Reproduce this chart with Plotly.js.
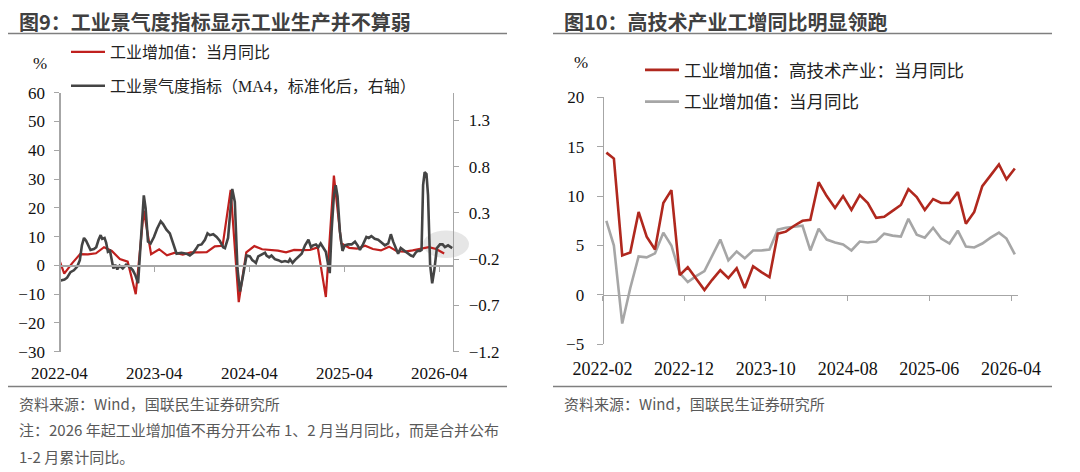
<!DOCTYPE html>
<html><head><meta charset="utf-8">
<script src="https://cdn.plot.ly/plotly-3.0.1.min.js"></script>
<style>html,body{margin:0;padding:0;background:#fff}#chart{width:1080px;height:472px}</style>
</head><body><div id="chart"></div>
<script>
// ---------- Figure 9 data ----------
const ipDates = ['2022-03-20','2022-04-20','2022-05-20','2022-06-20','2022-07-20','2022-08-20','2022-09-20','2022-10-20','2022-11-20','2022-12-20',
'2023-01-20','2023-02-20','2023-03-20','2023-04-20','2023-05-20','2023-06-20','2023-07-20','2023-08-20','2023-09-20','2023-10-20','2023-11-20','2023-12-20',
'2024-01-20','2024-02-20','2024-03-20','2024-04-20','2024-05-20','2024-06-20','2024-07-20','2024-08-20','2024-09-20','2024-10-20','2024-11-20','2024-12-20',
'2025-01-20','2025-02-20','2025-03-20','2025-04-20','2025-05-20','2025-06-20','2025-07-20','2025-08-20','2025-09-20','2025-10-20','2025-11-20','2025-12-20',
'2026-01-20','2026-02-20','2026-03-20','2026-04-20'];
const ipYoY = [5.0,-2.9,0.7,3.9,3.8,4.2,6.3,5.0,2.2,1.3,
-10.0,19.0,3.9,5.6,3.5,4.4,3.7,4.5,4.5,4.6,6.6,6.8,
26.2,-12.8,4.5,6.7,5.6,5.3,5.1,4.5,5.4,5.3,5.4,6.2,
-11.0,31.2,7.7,6.1,5.8,6.8,5.7,5.2,6.5,4.9,4.8,5.2,
5.8,6.3,5.7,4.1];

const prosDates = ['2022-04-02','2022-04-06','2022-04-21','2022-05-01','2022-05-14','2022-05-27','2022-06-09','2022-06-19','2022-06-27','2022-07-05',
'2022-07-13','2022-07-20','2022-07-30','2022-08-12','2022-08-21','2022-08-30','2022-09-07','2022-09-13','2022-09-22','2022-09-28',
'2022-10-05','2022-10-13','2022-10-18','2022-10-26','2022-11-02','2022-11-10','2022-11-19','2022-12-01','2022-12-14','2022-12-27',
'2023-01-09','2023-01-18','2023-01-29','2023-02-06','2023-02-14','2023-02-20','2023-02-27','2023-03-08','2023-03-18','2023-03-31',
'2023-04-12','2023-04-26','2023-05-05','2023-05-18','2023-05-31','2023-06-13','2023-06-26','2023-07-15','2023-08-03','2023-08-16',
'2023-08-29','2023-09-11','2023-09-17','2023-09-30','2023-10-13','2023-10-23','2023-11-01','2023-11-14','2023-11-27','2023-12-09',
'2023-12-22','2023-12-29','2024-01-10','2024-01-26','2024-02-05','2024-02-15','2024-02-25','2024-03-08','2024-03-21','2024-04-03',
'2024-04-12','2024-04-22','2024-04-26','2024-05-05','2024-05-18','2024-05-31','2024-06-06','2024-06-16','2024-06-25','2024-07-08',
'2024-07-21','2024-08-03','2024-08-16','2024-08-29','2024-09-04','2024-09-14','2024-09-23','2024-10-06','2024-10-19','2024-11-01',
'2024-11-14','2024-11-24','2024-12-02','2024-12-13','2024-12-22','2024-12-31','2025-01-10','2025-01-20','2025-01-29','2025-02-04',
'2025-02-11','2025-02-20','2025-02-27','2025-03-06','2025-03-15','2025-03-25','2025-04-03','2025-04-16','2025-04-29','2025-05-12',
'2025-05-22','2025-05-31','2025-06-12','2025-06-25','2025-07-04','2025-07-14','2025-07-27','2025-08-09','2025-08-22','2025-09-04',
'2025-09-17','2025-09-27','2025-10-06','2025-10-15','2025-10-25','2025-11-04','2025-11-17','2025-11-30','2025-12-13','2025-12-22',
'2025-12-31','2026-01-08','2026-01-17','2026-01-23','2026-01-29','2026-02-04','2026-02-11','2026-02-17','2026-02-25','2026-03-05',
'2026-03-13','2026-03-23','2026-04-04','2026-04-14','2026-04-23','2026-05-05','2026-05-21'];
const prosIndex = [-0.42,-0.43,-0.42,-0.40,-0.34,-0.32,-0.28,-0.21,-0.05,0.03,
0.00,-0.05,-0.10,-0.09,-0.07,0.01,0.06,0.02,0.03,-0.02,
-0.12,-0.11,-0.18,-0.30,-0.26,-0.31,-0.27,-0.30,-0.26,-0.28,
-0.32,-0.37,-0.46,-0.08,0.28,0.49,0.35,-0.01,-0.03,0.04,
0.13,0.21,0.18,0.12,0.08,-0.03,-0.14,-0.13,-0.14,-0.16,
-0.13,-0.08,-0.05,-0.04,0.01,0.08,0.06,0.07,0.04,0.00,
-0.07,-0.08,0.03,0.56,0.42,-0.30,-0.55,-0.37,-0.16,-0.17,
-0.21,-0.23,-0.24,-0.17,-0.15,-0.13,-0.16,-0.18,-0.16,-0.20,
-0.21,-0.23,-0.22,-0.23,-0.20,-0.24,-0.21,-0.17,-0.14,-0.05,
0.01,-0.07,-0.05,-0.04,-0.07,-0.03,-0.08,-0.12,-0.26,-0.35,
0.10,0.49,0.60,0.48,0.10,-0.11,-0.05,-0.04,-0.04,-0.01,
-0.05,-0.10,-0.04,0.04,0.03,0.05,0.02,0.01,-0.02,-0.05,
-0.03,0.07,-0.01,-0.08,-0.14,-0.08,-0.11,-0.13,-0.16,-0.17,
-0.13,-0.11,-0.11,-0.10,0.60,0.74,0.72,0.49,-0.26,-0.46,
-0.32,-0.08,-0.04,-0.04,-0.07,-0.05,-0.08];

const f9TickVals = ['2022-04-01','2023-04-01','2024-04-01','2025-04-01','2026-04-01'];
const f9TickText = ['2022-04','2023-04','2024-04','2025-04','2026-04'];
const f9LeftTicks = [60,50,40,30,20,10,0,-10,-20,-30];
const f9RightTicks = [1.3,0.8,0.3,-0.2,-0.7,-1.2];

// ---------- Figure 10 data ----------
const f10Months = ['2022-02-15','2022-03-15','2022-04-15','2022-05-15','2022-06-15','2022-07-15','2022-08-15','2022-09-15','2022-10-15','2022-11-15','2022-12-15',
'2023-01-15','2023-02-15','2023-03-15','2023-04-15','2023-05-15','2023-06-15','2023-07-15','2023-08-15','2023-09-15','2023-10-15','2023-11-15','2023-12-15',
'2024-01-15','2024-02-15','2024-03-15','2024-04-15','2024-05-15','2024-06-15','2024-07-15','2024-08-15','2024-09-15','2024-10-15','2024-11-15','2024-12-15',
'2025-01-15','2025-02-15','2025-03-15','2025-04-15','2025-05-15','2025-06-15','2025-07-15','2025-08-15','2025-09-15','2025-10-15','2025-11-15','2025-12-15',
'2026-01-15','2026-02-15','2026-03-15','2026-04-15'];
const hiTechYoY = [14.4,13.8,4.0,4.3,8.4,5.9,4.6,9.3,10.6,2.0,2.8,
1.6,0.5,1.5,2.5,1.7,2.7,0.7,2.9,2.3,1.8,6.2,6.4,
7.0,7.5,7.6,11.4,10.0,8.8,10.0,8.6,10.1,9.3,7.8,7.9,
8.5,9.1,10.7,9.9,8.6,9.7,9.3,9.3,10.4,7.2,8.4,11.0,
12.1,13.2,11.7,12.8];
const ipYoY2 = [7.5,5.0,-2.9,0.7,3.9,3.8,4.2,6.3,5.0,2.2,1.3,
1.9,2.4,3.9,5.6,3.5,4.4,3.7,4.5,4.5,4.6,6.6,6.8,
6.9,7.0,4.5,6.7,5.6,5.3,5.1,4.5,5.4,5.3,5.4,6.2,
6.0,5.9,7.7,6.1,5.8,6.8,5.7,5.2,6.5,4.9,4.8,5.2,
5.8,6.3,5.7,4.1];
const f10TickVals = ['2022-02-01','2022-12-01','2023-10-01','2024-08-01','2025-06-01','2026-04-01'];
const f10TickText = ['2022-02','2022-12','2023-10','2024-08','2025-06','2026-04'];
const f10YTicks = [20,15,10,5,0,-5];

// ---------- layout helpers ----------
const W = 1080, H = 472;
const px = x => x / W;
const py = y => 1 - y / H;
const AX = '#a6a6a6';
const TICKFONT = {family: 'Liberation Serif, Times New Roman, serif', size: 17, color: '#111'};
const LEGFONT = {family: 'Liberation Serif, Noto Sans CJK SC, sans-serif', size: 16, color: '#222'};
const NOTEFONT = {family: 'Noto Sans CJK SC, sans-serif', size: 15, color: '#595959'};

const L = {x0: 59.3, x1: 453, yTop: 92.7, yBot: 351.7};
const R = {x0: 602.6, x1: 1018.3, yTop: 97.3, yBot: 344.3};

const traces = [
  {x: ipDates, y: ipYoY, type: 'scatter', mode: 'lines', name: '工业增加值：当月同比',
   line: {color: '#C0201E', width: 2.2}, xaxis: 'x', yaxis: 'y', legend: 'legend', legendrank: 1, legendgroup: 'a'},
  {x: prosDates, y: prosIndex, type: 'scatter', mode: 'lines', name: '工业景气度指标（MA4，标准化后，右轴）',
   line: {color: '#444444', width: 2.6}, xaxis: 'x', yaxis: 'y2', legend: 'legend', legendrank: 2, legendgroup: 'b'},
  {x: f10Months, y: ipYoY2, type: 'scatter', mode: 'lines', name: '工业增加值：当月同比',
   line: {color: '#A6A6A6', width: 2.6}, xaxis: 'x2', yaxis: 'y3', legend: 'legend2', legendrank: 2, legendgroup: 'd'},
  {x: f10Months, y: hiTechYoY, type: 'scatter', mode: 'lines', name: '工业增加值：高技术产业：当月同比',
   line: {color: '#B0281E', width: 2.6}, xaxis: 'x2', yaxis: 'y3', legend: 'legend2', legendrank: 1, legendgroup: 'c'}
];

const layout = {
  width: W, height: H, margin: {l: 0, r: 0, t: 0, b: 0},
  paper_bgcolor: '#fff', plot_bgcolor: 'rgba(0,0,0,0)',
  showlegend: true,
  xaxis: {type: 'date', domain: [px(L.x0), px(L.x1)], range: ['2022-04-01', '2026-05-24'],
    anchor: 'free', position: py(L.yBot) + (py(L.yTop) - py(L.yBot)) / 3,
    tickmode: 'array', tickvals: f9TickVals, ticktext: f9TickText,
    showline: true, linecolor: AX, linewidth: 1.3, ticks: 'outside', ticklen: 5, tickcolor: AX,
    showgrid: false, zeroline: false, tickfont: TICKFONT, ticklabelstandoff: 87, fixedrange: true},
  yaxis: {domain: [py(L.yBot), py(L.yTop)], range: [-30, 60], anchor: 'free', position: px(L.x0),
    tickmode: 'array', tickvals: f9LeftTicks, showline: true, linecolor: AX, linewidth: 1.3,
    ticks: 'outside', ticklen: 5, tickcolor: AX, showgrid: false, zeroline: false,
    tickfont: TICKFONT, ticklabelstandoff: 6, fixedrange: true},
  yaxis2: {overlaying: 'y', side: 'right', range: [-1.2, 1.6], anchor: 'free', position: px(L.x1),
    tickmode: 'array', tickvals: f9RightTicks, showline: true, linecolor: AX, linewidth: 1.3,
    ticks: 'outside', ticklen: 5, tickcolor: AX, showgrid: false, zeroline: false,
    tickfont: TICKFONT, ticklabelstandoff: 6, fixedrange: true},
  xaxis2: {type: 'date', domain: [px(R.x0), px(R.x1)], range: ['2022-02-01', '2026-04-28'],
    anchor: 'free', position: py(R.yBot) + (py(R.yTop) - py(R.yBot)) / 5,
    tickmode: 'array', tickvals: f10TickVals, ticktext: f10TickText,
    showline: true, linecolor: AX, linewidth: 1.3, ticks: 'outside', ticklen: 5, tickcolor: AX,
    showgrid: false, zeroline: false, tickfont: Object.assign({}, TICKFONT, {size: 18}), ticklabelstandoff: 52, fixedrange: true},
  yaxis3: {domain: [py(R.yBot), py(R.yTop)], range: [-5, 20], anchor: 'free', position: px(R.x0),
    tickmode: 'array', tickvals: f10YTicks, showline: true, linecolor: AX, linewidth: 1.3,
    ticks: 'outside', ticklen: 6, tickcolor: AX, showgrid: false, zeroline: false,
    tickfont: TICKFONT, ticklabelstandoff: 9, fixedrange: true},
  legend: {x: px(66), y: py(35), xanchor: 'left', yanchor: 'top', bgcolor: 'rgba(0,0,0,0)',
    font: LEGFONT, traceorder: 'grouped', tracegroupgap: 10, itemwidth: 34, itemclick: false},
  legend2: {x: px(640), y: py(52), xanchor: 'left', yanchor: 'top', bgcolor: 'rgba(0,0,0,0)',
    font: Object.assign({}, LEGFONT, {size: 17.5}), traceorder: 'grouped', tracegroupgap: 6, itemwidth: 34, itemclick: false},
  shapes: [
    {type: 'line', xref: 'paper', yref: 'paper', x0: px(8), x1: px(507), y0: py(33.5), y1: py(33.5), line: {color: '#7f7f7f', width: 1.6}},
    {type: 'line', xref: 'paper', yref: 'paper', x0: px(553), x1: px(1052), y0: py(33.5), y1: py(33.5), line: {color: '#7f7f7f', width: 1.6}},
    {type: 'line', xref: 'paper', yref: 'paper', x0: px(8), x1: px(507), y0: py(386.5), y1: py(386.5), line: {color: '#7f7f7f', width: 1.6}},
    {type: 'line', xref: 'paper', yref: 'paper', x0: px(553), x1: px(1052), y0: py(386.5), y1: py(386.5), line: {color: '#7f7f7f', width: 1.6}},
    {type: 'circle', xref: 'paper', yref: 'paper', layer: 'below', x0: px(423), x1: px(469), y0: py(258), y1: py(230.5),
     fillcolor: 'rgba(200,200,200,0.45)', line: {width: 0}}
  ],
  annotations: [
    {text: '<b>图9：工业景气度指标显示工业生产并不算弱</b>', xref: 'paper', yref: 'paper', x: px(17), y: py(22), xanchor: 'left', yanchor: 'middle', showarrow: false,
     font: {family: 'Noto Sans CJK SC, sans-serif', size: 20, color: '#404040'}},
    {text: '<b>图10：高技术产业工增同比明显领跑</b>', xref: 'paper', yref: 'paper', x: px(562), y: py(22), xanchor: 'left', yanchor: 'middle', showarrow: false,
     font: {family: 'Noto Sans CJK SC, sans-serif', size: 20, color: '#404040'}},
    {text: '%', xref: 'paper', yref: 'paper', x: px(40), y: py(64), xanchor: 'center', yanchor: 'middle', showarrow: false, font: TICKFONT},
    {text: '%', xref: 'paper', yref: 'paper', x: px(581), y: py(63), xanchor: 'center', yanchor: 'middle', showarrow: false, font: TICKFONT},
    {text: '资料来源：Wind，国联民生证券研究所', xref: 'paper', yref: 'paper', x: px(17), y: py(403), xanchor: 'left', yanchor: 'middle', showarrow: false, font: NOTEFONT},
    {text: '注：2026 年起工业增加值不再分开公布 1、2 月当月同比，而是合并公布', xref: 'paper', yref: 'paper', x: px(17), y: py(429.5), xanchor: 'left', yanchor: 'middle', showarrow: false, font: NOTEFONT},
    {text: '1-2 月累计同比。', xref: 'paper', yref: 'paper', x: px(17), y: py(456), xanchor: 'left', yanchor: 'middle', showarrow: false, font: NOTEFONT},
    {text: '资料来源：Wind，国联民生证券研究所', xref: 'paper', yref: 'paper', x: px(562), y: py(403), xanchor: 'left', yanchor: 'middle', showarrow: false, font: NOTEFONT}
  ]
};

Plotly.newPlot('chart', traces, layout, {staticPlot: true, displayModeBar: false});
</script>
</body></html>
